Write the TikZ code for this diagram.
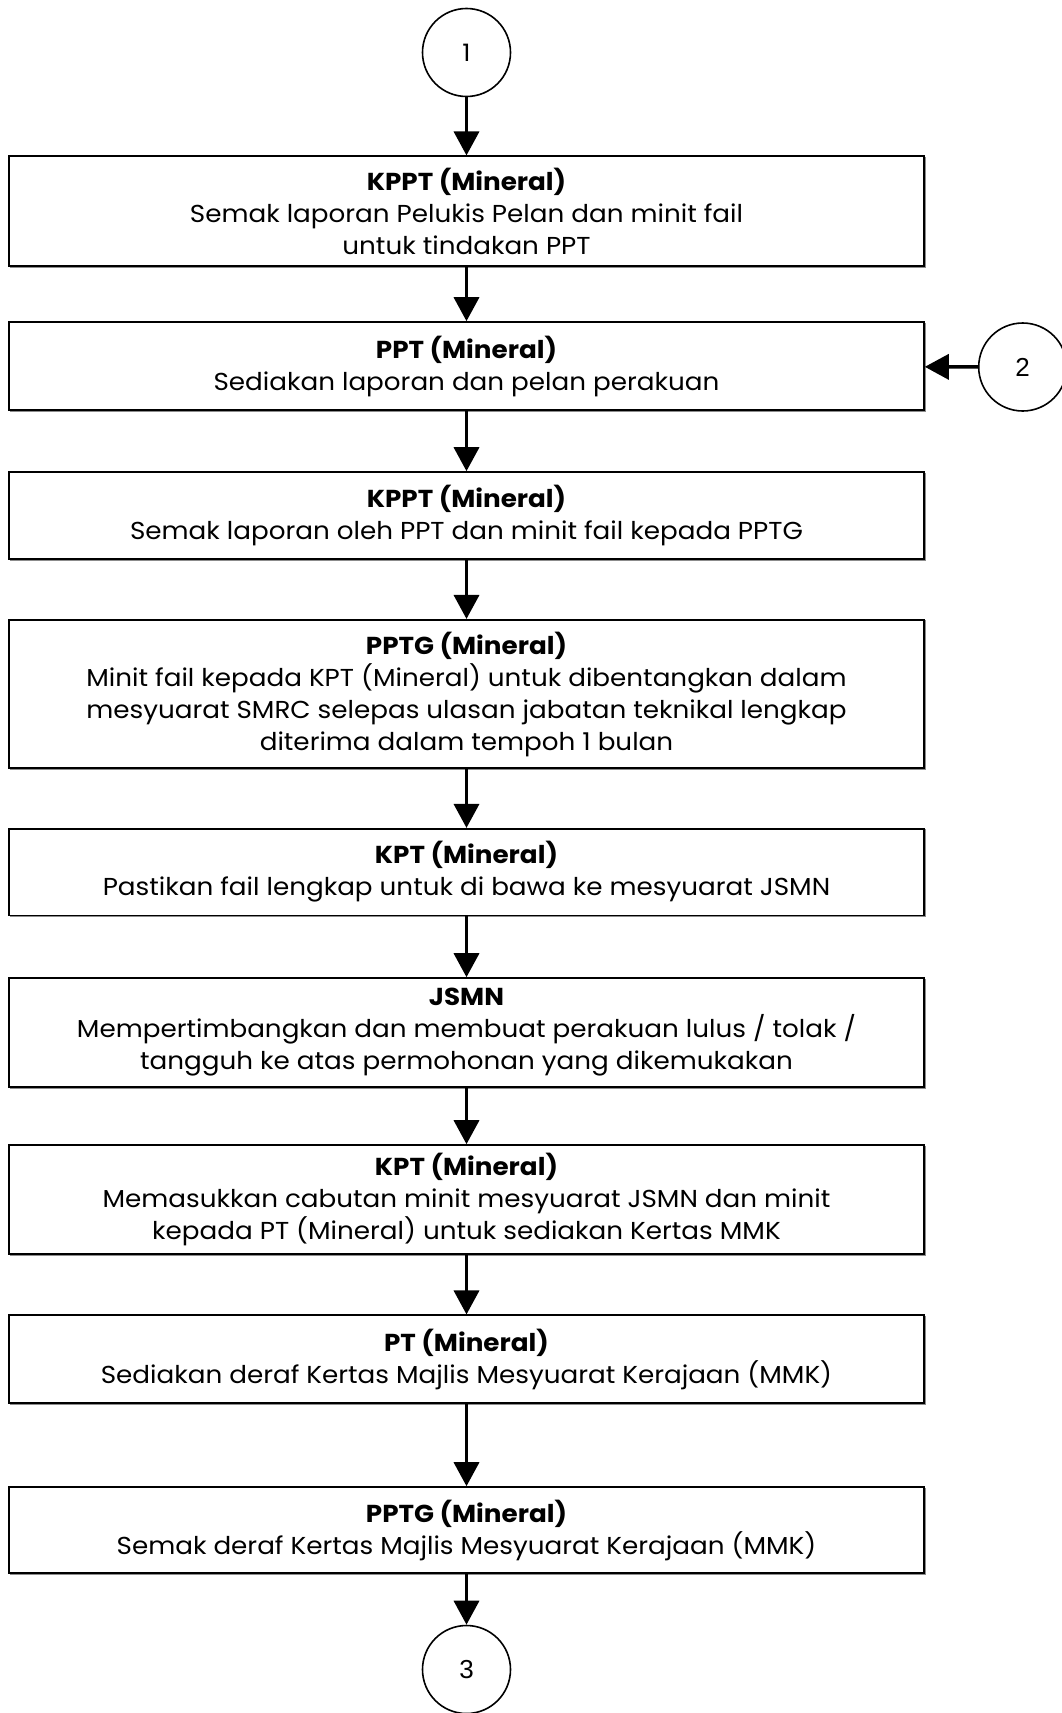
\documentclass[tikz,border=0pt]{standalone}
\usepackage{fontspec}
\setmainfont{Poppins}[FakeStretch=1.07]
\newfontfamily\numfont{Liberation Sans}
\usetikzlibrary{arrows.meta}
\begin{document}
\begin{tikzpicture}[x=1pt,y=-1pt,
  stepbox/.style={draw=black, line width=1.6pt, fill=white, minimum width=915pt,
    align=center, inner sep=0pt, font=\fontsize{24.5}{32}\selectfont,
    preaction={draw=black!45, line width=1.2pt, transform canvas={xshift=1.2pt,yshift=-1.2pt}}},
  conn/.style={circle, draw=black, line width=1.6pt, minimum size=88pt, inner sep=0pt,
    font=\fontsize{24}{26}\selectfont},
  flow/.style={line width=3.6pt, -{Triangle[length=24pt,width=25pt]}}]
\useasboundingbox (0,0) rectangle (1062,1713);

\node[conn] (c1) at (466.5,52.5) {1};
\node[stepbox, minimum height=109.5pt] (b1) at (466.5,211)
  {\textbf{KPPT (Mineral)}\\Semak laporan Pelukis Pelan dan minit fail\\untuk tindakan PPT};
\node[stepbox, minimum height=88pt] (b2) at (466.5,366)
  {\textbf{PPT (Mineral)}\\Sediakan laporan dan pelan perakuan};
\node[conn, font=\numfont\fontsize{26}{28}\selectfont] (c2) at (1022.7,367) {2};
\node[stepbox, minimum height=87pt] (b3) at (466.5,515.5)
  {\textbf{KPPT (Mineral)}\\Semak laporan oleh PPT dan minit fail kepada PPTG};
\node[stepbox, minimum height=148.5pt] (b4) at (466.5,694)
  {\textbf{PPTG (Mineral)}\\Minit fail kepada KPT (Mineral) untuk dibentangkan dalam\\mesyuarat SMRC selepas ulasan jabatan teknikal lengkap\\diterima dalam tempoh 1 bulan};
\node[stepbox, minimum height=86.6pt] (b5) at (466.5,872)
  {\textbf{KPT (Mineral)}\\Pastikan fail lengkap untuk di bawa ke mesyuarat JSMN};
\node[stepbox, minimum height=109pt] (b6) at (466.5,1032.5)
  {\textbf{JSMN}\\Mempertimbangkan dan membuat perakuan lulus / tolak /\\tangguh ke atas permohonan yang dikemukakan};
\node[stepbox, minimum height=109pt] (b7) at (466.5,1199.5)
  {\textbf{KPT (Mineral)}\\Memasukkan cabutan minit mesyuarat JSMN dan minit\\kepada PT (Mineral) untuk sediakan Kertas MMK};
\node[stepbox, minimum height=87.5pt] (b8) at (466.5,1359)
  {\textbf{PT (Mineral)}\\Sediakan deraf Kertas Majlis Mesyuarat Kerajaan (MMK)};
\node[stepbox, minimum height=86pt] (b9) at (466.5,1530)
  {\textbf{PPTG (Mineral)}\\Semak deraf Kertas Majlis Mesyuarat Kerajaan (MMK)};
\node[conn, font=\numfont\fontsize{26}{28}\selectfont] (c3) at (466.5,1669.5) {3};

\draw[flow] (c1) -- (b1);
\draw[flow] (b1) -- (b2);
\draw[flow] (c2) -- (b2);
\draw[flow] (b2) -- (b3);
\draw[flow] (b3) -- (b4);
\draw[flow] (b4) -- (b5);
\draw[flow] (b5) -- (b6);
\draw[flow] (b6) -- (b7);
\draw[flow] (b7) -- (b8);
\draw[flow] (b8) -- (b9);
\draw[flow] (b9) -- (c3);
\end{tikzpicture}
\end{document}
